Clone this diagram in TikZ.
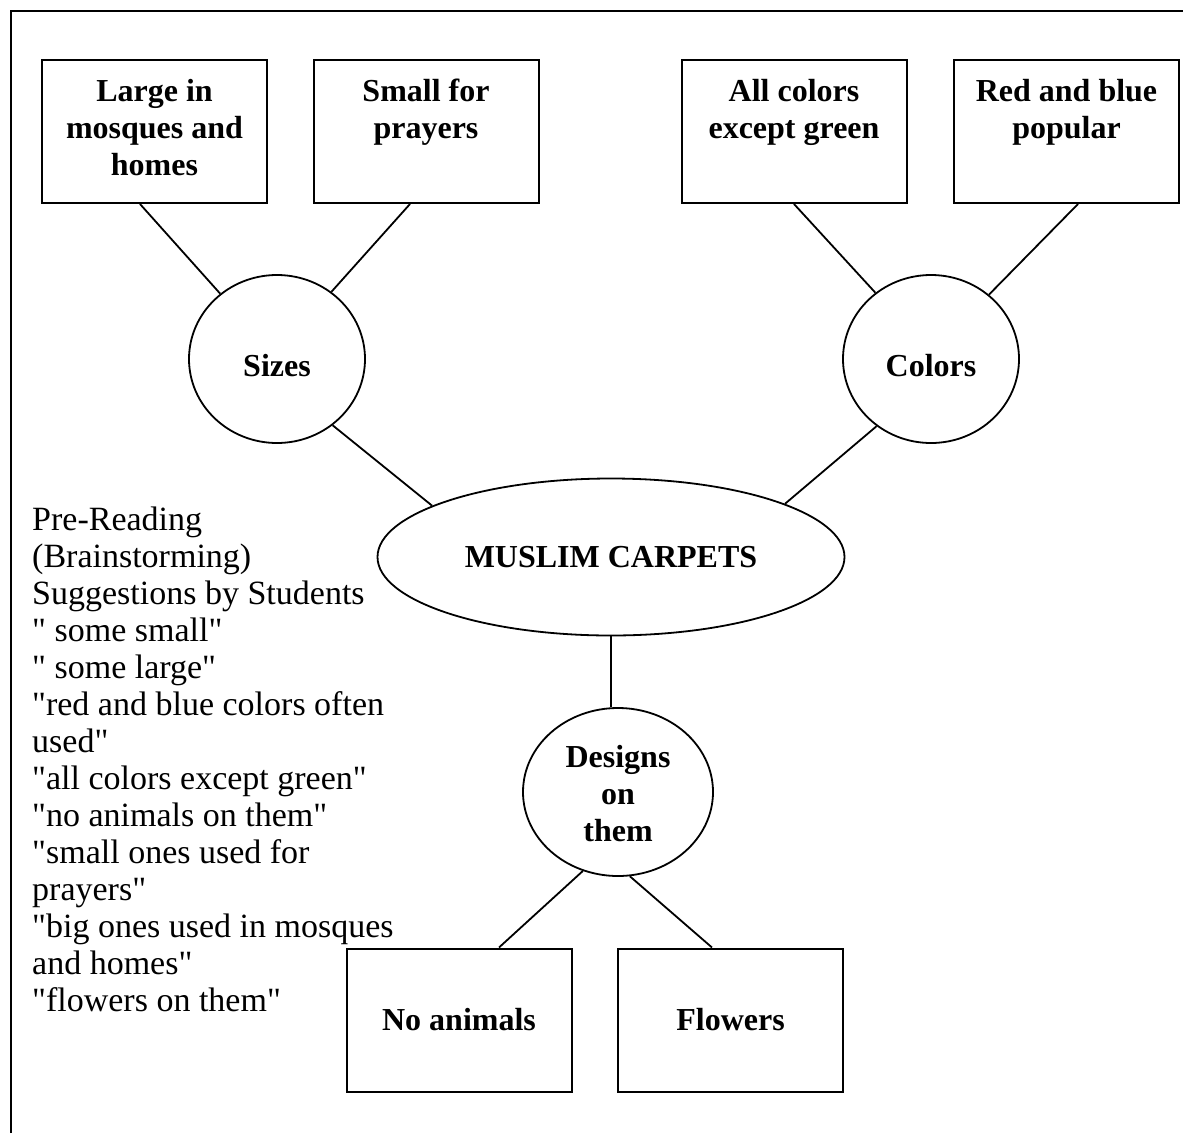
\documentclass[tikz,border=0pt]{standalone}
\usepackage{fontspec}
\setmainfont{Liberation Serif}[Ligatures=TeXOff]
\usetikzlibrary{shapes.geometric}
\newcommand\bigtext{\fontsize{32}{37}\selectfont}
\newcommand\notetext{\fontsize{34}{37}\selectfont}
\tikzset{
  box/.style={draw, line width=2pt, minimum width=225pt, minimum height=143pt,
              align=center, inner sep=0pt, font=\bigtext\bfseries},
  bubble/.style={draw, ellipse, line width=1.8pt, inner sep=0pt, align=center,
                 font=\bigtext\bfseries},
  link/.style={line width=1.8pt},
  notes/.style={align=left, inner sep=0pt, anchor=north west, font=\notetext}
}

\begin{document}
\begin{tikzpicture}[x=1pt,y=-1pt]
  \useasboundingbox (0,0) rectangle (1183,1133);
  \draw[line width=2pt] (11,1133) -- (11,11) -- (1183,11);

  % top row
  \node[box] (large) at (154.5,131.5) {\strut Large in\\mosques and\\homes\strut};
  \node[box] (small) at (426,131.5) {\strut Small for\\prayers\\\strut};
  \node[box] (allcol) at (794,131.5) {\strut All colors\\except green\\\strut};
  \node[box] (redblue) at (1066.5,131.5) {\strut Red and blue\\popular\\\strut};

  \node[bubble, minimum width=176pt, minimum height=168pt] (sizes) at (277,359)
      {\rule{0pt}{36pt}Sizes};
  \node[bubble, minimum width=176pt, minimum height=168pt] (colors) at (931,359)
      {\rule{0pt}{36pt}Colors};
  \node[bubble, minimum width=467pt, minimum height=157pt] (carpets) at (611,557) {MUSLIM CARPETS};
  \node[bubble, minimum width=190pt, minimum height=168pt] (designs) at (618,792)
      {\strut Designs\\on\\them};

  % bottom row
  \node[box] (noanim) at (459,1020) {No animals};
  \node[box] (flowers) at (730.5,1020) {Flowers};

  \draw[link] ([xshift=-14.5pt]large.south) -- (sizes.131);
  \draw[link] ([xshift=-16pt]small.south) -- (sizes.51);
  \draw[link] (sizes.-50) -- (carpets.164);
  \draw[link] (allcol.south) -- (colors.130);
  \draw[link] ([xshift=11.5pt]redblue.south) -- (colors.48);
  \draw[link] (colors.-129) -- (carpets.17);
  \draw[link] (carpets.south) -- (carpets.south |- designs.north);
  \draw[link] (designs.246) -- ([xshift=40pt]noanim.north);
  \draw[link] (designs.278) -- ([xshift=-18.5pt]flowers.north);

  \node[notes] (suggest) at (32,504) {\strut Pre-Reading\\(Brainstorming)\\Suggestions by Students\\
    " some small"\\" some large"\\"red and blue colors often\\used"\\"all colors except green"\\
    "no animals on them"\\"small ones used for\\prayers"\\"big ones used in mosques\\
    and homes"\\"flowers on them"};
\end{tikzpicture}
\end{document}
